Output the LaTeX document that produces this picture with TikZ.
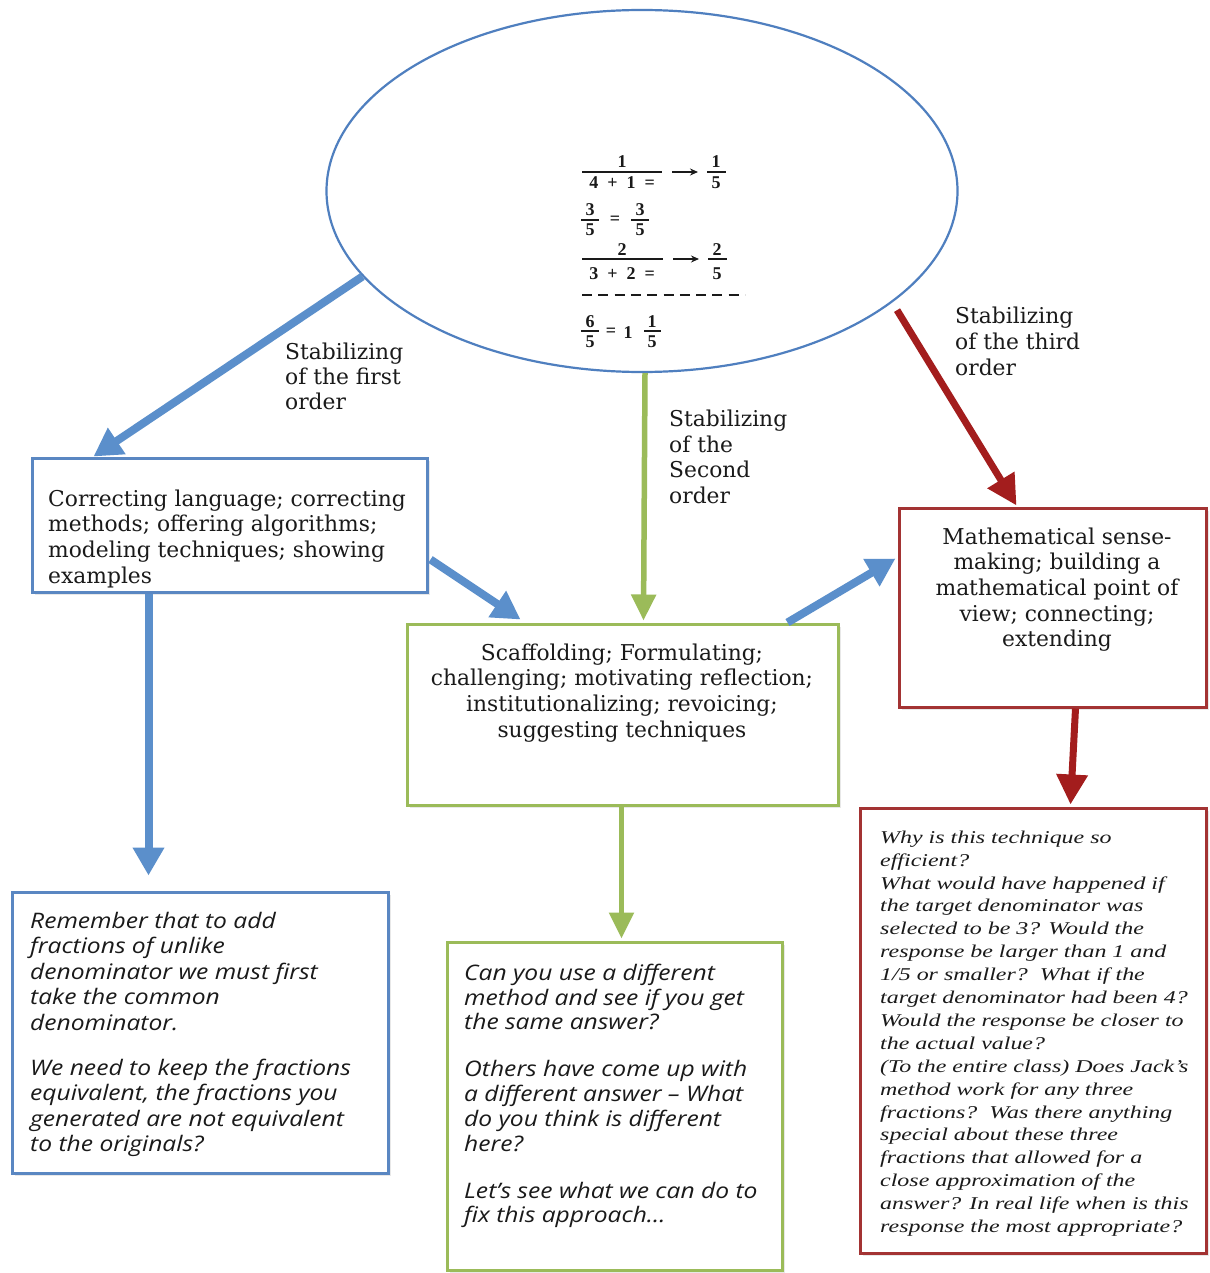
\documentclass[tikz,border=0pt]{standalone}
\usepackage{fontspec}
\setmainfont{DejaVu Serif}
\newfontfamily\sansit[FakeStretch=1.15]{Open Sans}
\newfontfamily\timesx[FakeStretch=1.33]{Liberation Serif}
\newfontfamily\timesb{Liberation Serif}
\usetikzlibrary{arrows.meta,shapes.geometric,calc,fit,shadows}
\definecolor{ellblue}{HTML}{4F7FBF}
\definecolor{boxblue}{HTML}{5A87C2}
\definecolor{arrblue}{HTML}{5B8FCB}
\definecolor{grn}{HTML}{9BBB59}
\definecolor{boxred}{HTML}{A33333}
\definecolor{arrred}{HTML}{A31D1D}
\definecolor{ink}{HTML}{1A1A1A}
\newcommand\msp{\hspace{9pt}}
\begin{document}
\begin{tikzpicture}[x=1pt,y=-1pt,
  boxbase/.style={line width=3pt,inner sep=0pt,fill=white,
    drop shadow={opacity=0.18,shadow xshift=2.5pt,shadow yshift=-2.5pt}},
  bbox/.style={boxbase,draw=boxblue},
  gbox/.style={boxbase,draw=grn},
  rbox/.style={boxbase,draw=boxred},
  barrow/.style={draw=arrblue,line width=8pt,-{Triangle[width=30pt,length=28pt]}},
  garrow/.style={draw=grn,line width=5.5pt,-{Triangle[width=24pt,length=26pt]}},
  rarrow/.style={draw=arrred,line width=7pt,-{Triangle[width=30pt,length=30pt]}},
  regtxt/.style={inner sep=0pt,text=ink,font=\fontsize{21.8}{25.7}\selectfont},
  lbltxt/.style={inner sep=0pt,text=ink,anchor=north west,align=left},
  sanstxt/.style={inner sep=0pt,text=ink,anchor=north west,align=left,font=\sansit\itshape\fontsize{21.4}{25.5}\selectfont},
  mtxt/.style={inner sep=0pt,text=ink,anchor=base,font=\timesb\bfseries\fontsize{18}{18}\selectfont},
  mbar/.style={draw=ink,line width=1.6pt},
  marr/.style={draw=ink,line width=1.5pt,-{Stealth[length=8pt,width=7pt]}}
]
\useasboundingbox (0,0) rectangle (1209,1273);
\fill[white] (0,0) rectangle (1209,1273);

% ellipse
\node[ellipse,draw=ellblue,line width=2.2pt,minimum width=631pt,minimum height=362pt,inner sep=0pt] (ell) at (642,191) {};

% fractions inside the ellipse
\node[mtxt] (m1) at (622,168) {1};
\draw[mbar] (582,172) -- (662,172);
\node[mtxt] (m2) at (622,189) {4\msp+\msp1\msp=};
\draw[marr] (672,172) -- (698,172);
\node[mtxt] (m3) at (716,168) {1};
\draw[mbar] (707,172) -- (726,172);
\node[mtxt] (m4) at (716,189) {5};

\node[mtxt] (m5) at (590,216) {3};
\draw[mbar] (581,220) -- (599,220);
\node[mtxt] (m6) at (590,236) {5};
\node[mtxt] (m7) at (615,225) {=};
\node[mtxt] (m8) at (640,216) {3};
\draw[mbar] (631,220) -- (649,220);
\node[mtxt] (m9) at (640,236) {5};

\node[mtxt] (m10) at (622,255) {2};
\draw[mbar] (582,259) -- (663,259);
\node[mtxt] (m11) at (622,279) {3\msp+\msp2\msp=};
\draw[marr] (673,259) -- (699,259);
\node[mtxt] (m12) at (717,255) {2};
\draw[mbar] (708,259) -- (727,259);
\node[mtxt] (m13) at (717,279) {5};

\draw[draw=ink,line width=2.2pt,dash pattern=on 10pt off 6.3pt] (582,295) -- (745,295);

\node[mtxt] (m14) at (590,327) {6};
\draw[mbar] (581,331) -- (599,331);
\node[mtxt] (m15) at (590,347) {5};
\node[mtxt] (m16) at (611,336) {=};
\node[mtxt] (m17) at (628,338) {1};
\node[mtxt] (m18) at (652,327) {1};
\draw[mbar] (644,331) -- (661,331);
\node[mtxt] (m19) at (652,347) {5};

% boxes
\node[bbox,fit={(32,458) (427,592)}] (b1) {};
\node[bbox,fit={(12,892) (388,1173)}] (b2) {};
\node[gbox,fit={(407,624) (838,805)}] (g1) {};
\node[gbox,fit={(447,942) (782,1270)}] (g2) {};
\node[rbox,fit={(899,508) (1206,707)}] (r1) {};
\node[rbox,fit={(860,808) (1206,1253)}] (r2) {};

% box texts
\node[regtxt,anchor=north west,align=left] (t1) at (48,488)
  {\strut Correcting language; correcting\\ methods; offering algorithms;\\ modeling techniques; showing\\ examples};
\node[regtxt,anchor=north,align=center] (t2) at (622,642)
  {\strut Scaffolding; Formulating;\\ challenging; motivating reflection;\\ institutionalizing; revoicing;\\ suggesting techniques};
\node[regtxt,anchor=north,align=center] (t3) at (1057,526)
  {\strut Mathematical sense-\\ making; building a\\ mathematical point of\\ view; connecting;\\ extending};

\node[sanstxt] (t4) at (30,910)
  {\strut Remember that to add\\ fractions of unlike\\ denominator we must first\\ take the common\\ denominator.\\[19.5pt]
   We need to keep the fractions\\ equivalent, the fractions you\\ generated are not equivalent\\ to the originals?};
\node[sanstxt,font=\sansit\itshape\fontsize{21.4}{24.7}\selectfont] (t5) at (464,963)
  {\strut Can you use a different\\ method and see if you get\\ the same answer?\\[22.3pt]
   Others have come up with\\ a different answer – What\\ do you think is different\\ here?\\[22.3pt]
   Let’s see what we can do to\\ fix this approach…};
\node[inner sep=0pt,text=ink,anchor=north west,align=left,font=\timesx\itshape\fontsize{18}{22.9}\selectfont] (t6) at (880,827)
  {\strut Why is this technique so\\ efficient?\\ What would have happened if\\ the target denominator was\\ selected to be 3? Would the\\ response be larger than 1 and\\ 1/5 or smaller?\ \ What if the\\ target denominator had been 4?\\ Would the response be closer to\\ the actual value?\\ (To the entire class) Does Jack’s\\ method work for any three\\ fractions?\ \ Was there anything\\ special about these three\\ fractions that allowed for a\\ close approximation of the\\ answer? In real life when is this\\ response the most appropriate?};

% labels
\node[lbltxt,font=\fontsize{21.8}{25}\selectfont] (l1) at (285,342) {\strut Stabilizing\\ of the first\\ order};
\node[lbltxt,font=\fontsize{21.8}{25.4}\selectfont] (l2) at (669,409) {\strut Stabilizing\\ of the\\ Second\\ order};
\node[lbltxt,font=\fontsize{21.8}{26}\selectfont] (l3) at (955,305) {\strut Stabilizing\\ of the third\\ order};

% connectors
\draw[barrow] (ell.197.4) -- ($(b1.north west)+(63,0)$);
\draw[barrow] ($(b1.south west)+(118,0)$) -- ($(b2.north west)+(138,-15)$);
\draw[barrow] ($(b1.north east)+(2,103)$) -- ($(g1.north west)+(115,-3)$);
\draw[barrow] ($(g1.north east)+(-52,0)$) -- ($(r1.north west)+(-2,52)$);
\draw[garrow] ($(ell.south)+(3,0)$) -- ($(g1.north west)+(238,-2)$);
\draw[garrow] ($(g1.south west)+(216,0)$) -- ($(g2.north west)+(176,-2)$);
\draw[rarrow,shorten <=9pt] (ell.-24.4) -- ($(r1.north west)+(119,-1)$);
\draw[rarrow] ($(r1.south west)+(178,0)$) -- ($(r2.north west)+(212,-2)$);
\end{tikzpicture}
\end{document}
